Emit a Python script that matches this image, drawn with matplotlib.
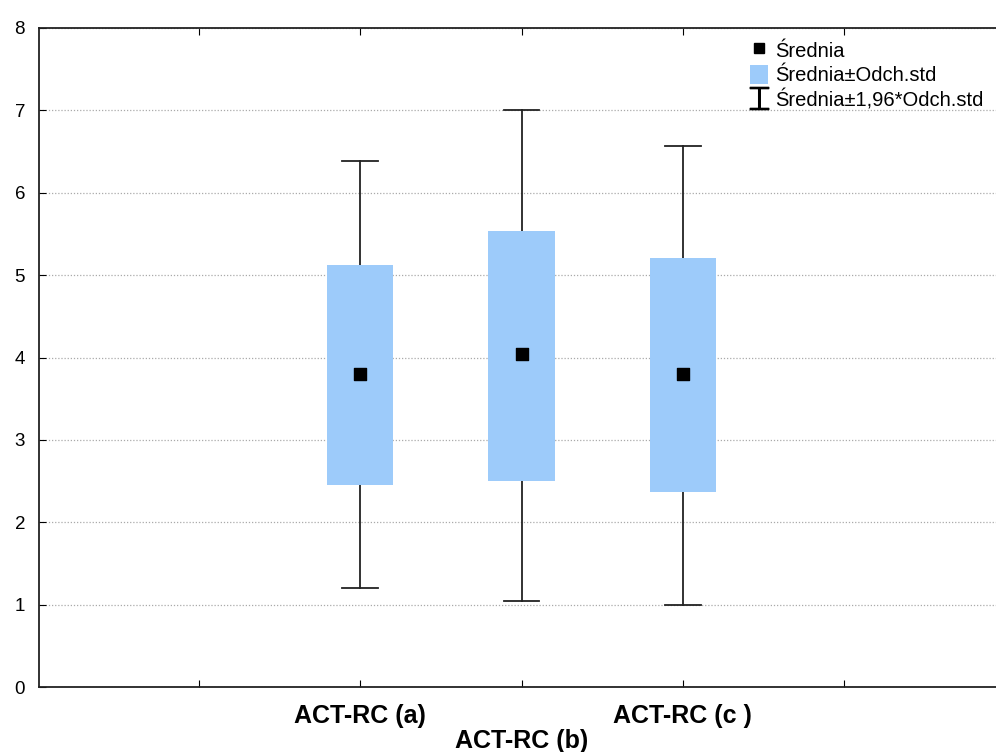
import matplotlib
matplotlib.use("Agg")
import matplotlib.pyplot as plt
from matplotlib.patches import Patch
from matplotlib.lines import Line2D

# dane
groups = ["ACT-RC (a)", "ACT-RC (b)", "ACT-RC (c )"]
mean = [3.80, 4.04, 3.80]
sd_low = [2.45, 2.50, 2.37]
sd_high = [5.12, 5.53, 5.21]
ci_low = [1.20, 1.04, 1.00]
ci_high = [6.38, 7.00, 6.57]

plt.rcParams['font.family'] = ['Liberation Sans', 'DejaVu Sans']

fig = plt.figure(figsize=(9.96, 7.52), dpi=100)
ax = fig.add_axes([39 / 996, 65 / 752, 957 / 996, 659 / 752])

pos = [1, 2, 3]
box_col = '#9dcbfa'

for i, p in enumerate(pos):
    # wąsy +-1.96*sd
    ax.plot([p, p], [ci_low[i], ci_high[i]], color='#222222', lw=1.3, zorder=2)
    ax.plot([p - 0.11, p + 0.11], [ci_low[i]] * 2, color='#222222', lw=1.3, zorder=2)
    ax.plot([p - 0.11, p + 0.11], [ci_high[i]] * 2, color='#222222', lw=1.3, zorder=2)
    # pudełko +-sd
    ax.bar(p, sd_high[i] - sd_low[i], bottom=sd_low[i], width=0.41,
           color=box_col, edgecolor='none', zorder=3)

ax.scatter(pos, mean, marker='s', s=75, color='black', zorder=4)

ax.set_xlim(-0.99, 4.94)
ax.set_ylim(0, 8)
ax.set_yticks(range(0, 9))
ax.set_xticks([0, 1, 2, 3, 4])
ax.set_xticklabels(['', groups[0], '', groups[2], ''])
ax.tick_params(axis='x', which='both', direction='in', top=True, length=5,
               labelsize=18, pad=12)
for lbl in ax.get_xticklabels():
    lbl.set_fontweight('bold')
ax.tick_params(axis='y', direction='in', length=5, labelsize=13.5, pad=10)

# etykieta (b) niżej
ax.annotate(groups[1], xy=(2, 0), xycoords=('data', 'axes fraction'),
            xytext=(0, -42), textcoords='offset pixels',
            ha='center', va='top', fontsize=18, fontweight='bold')

ax.grid(axis='y', color='#aaaaaa', linestyle=(0, (1, 1.5)), lw=0.9, zorder=0)
ax.spines['right'].set_visible(False)
for s in ['left', 'bottom', 'top']:
    ax.spines[s].set_linewidth(1.3)
    ax.spines[s].set_color('#222222')

handles = [
    Line2D([], [], marker='s', color='black', linestyle='none', markersize=7),
    Patch(facecolor=box_col, edgecolor='none'),
    Line2D([], [], marker='$\u2336$', color='black', linestyle='none', markersize=16),
]
labels = ['Średnia', 'Średnia±Odch.std', 'Średnia±1,96*Odch.std']
leg = ax.legend(handles, labels, loc='upper right', bbox_to_anchor=(1.0, 1.0),
                frameon=False, fontsize=14.5, handlelength=0.9, handleheight=1.1,
                handletextpad=0.35, labelspacing=0.2, borderaxespad=0.2)

fig.savefig('out.png', dpi=100)
